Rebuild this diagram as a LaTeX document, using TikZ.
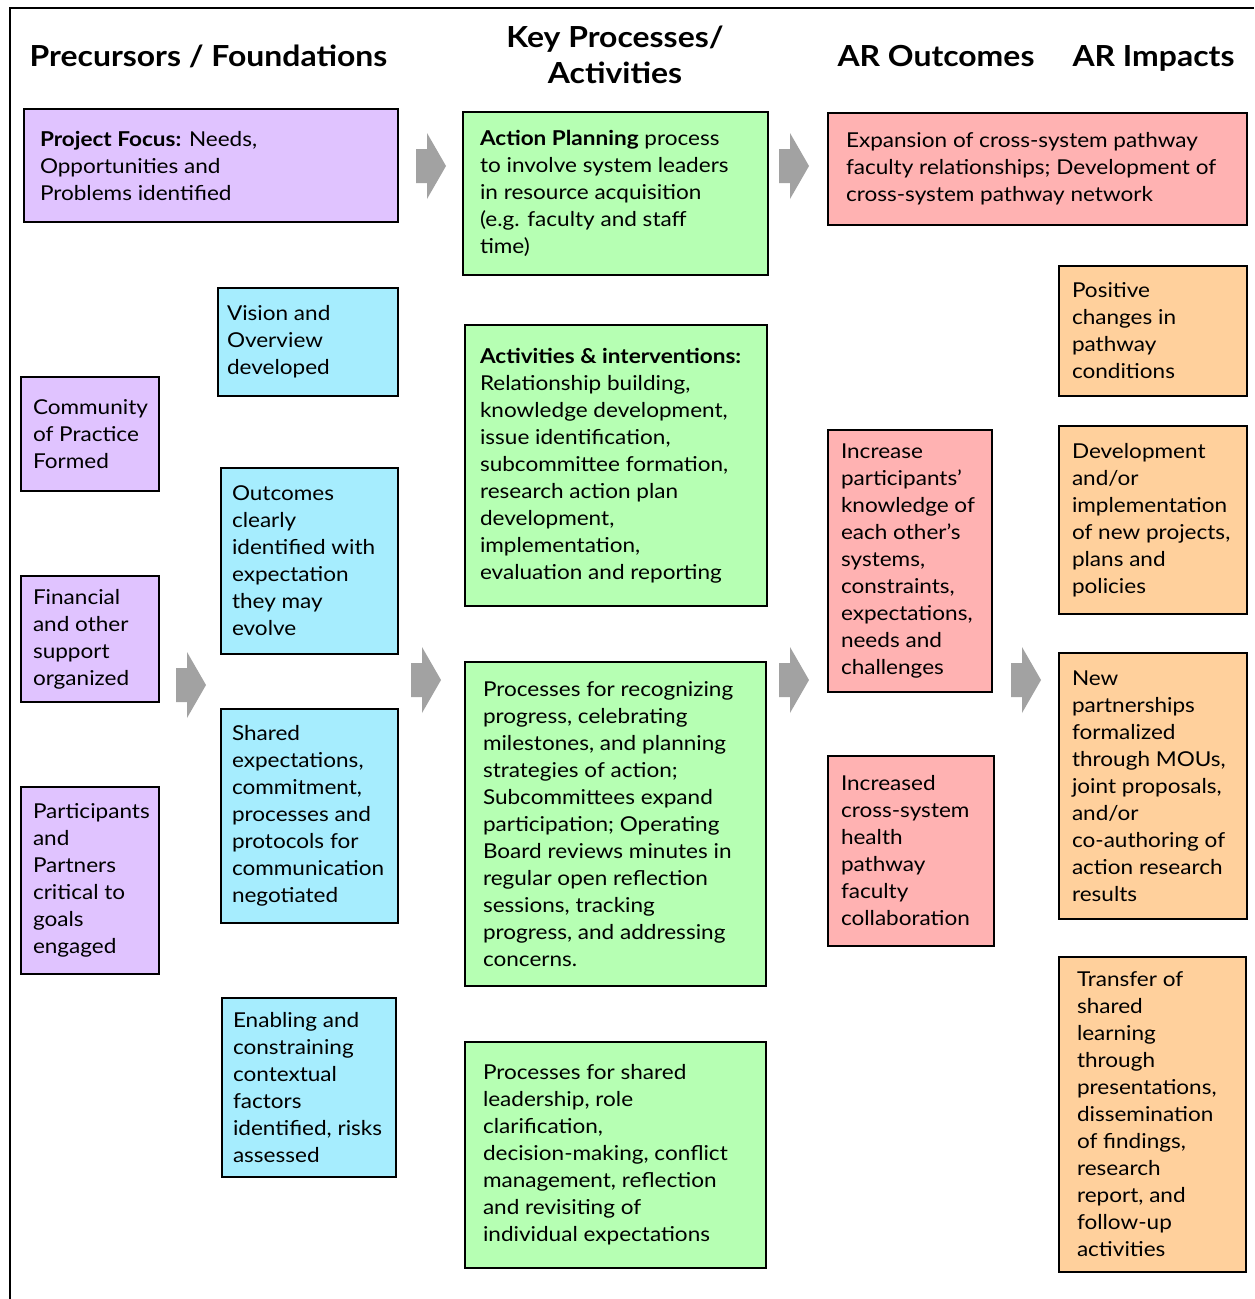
\documentclass[tikz,border=0pt]{standalone}
\usepackage{fontspec}
\setmainfont{Lato}[FakeStretch=1.1]
\definecolor{purpfill}{HTML}{E0C3FF}
\definecolor{greenfill}{HTML}{B6FFB3}
\definecolor{pinkfill}{HTML}{FFB2B2}
\definecolor{bluefill}{HTML}{A6EDFE}
\definecolor{orangefill}{HTML}{FFD09C}
\definecolor{arrowgray}{HTML}{A2A2A2}
\newcommand{\bodyfnt}{\fontsize{20.5}{27}\selectfont}
\newcommand{\headfnt}{\fontsize{29}{36}\selectfont\bfseries}
\tikzset{
  bx/.style={draw=black, line width=2.4pt, inner sep=0pt},
  pbox/.style={bx, fill=purpfill},
  gbox/.style={bx, fill=greenfill},
  rbox/.style={bx, fill=pinkfill},
  bbox/.style={bx, fill=bluefill},
  obox/.style={bx, fill=orangefill},
  tx/.style={anchor=west, align=left, inner sep=0pt, font=\bodyfnt},
  hd/.style={inner sep=0pt, align=center, font=\headfnt},
  blockarr/.pic={\fill[arrowgray] (0,-17) -- (11,-17) -- (11,-33) -- (30,0) -- (11,33) -- (11,17) -- (0,17) -- cycle;}
}
\begin{document}
\begin{tikzpicture}[x=1pt,y=-1pt]
\useasboundingbox (0,0) rectangle (1254,1299);
\fill[white] (0,0) rectangle (1254,1299);
% frame
\coordinate (fa) at (10,1299);
\coordinate (fb) at (10,8);
\coordinate (fc) at (1254,8);
\draw[line width=2pt] (fa) -- (fb) -- (fc);
% headers
\node[hd, anchor=base] (h1) at (208.5,66) {Precursors / Foundations};
\node[hd, anchor=base] (h2a) at (615,47) {Key Processes/};
\node[hd, anchor=base] (h2b) at (615,83) {Activities};
\node[hd, anchor=base] (h3) at (936,66) {AR Outcomes};
\node[hd, anchor=base] (h4) at (1153.5,66) {AR Impacts};
% boxes
\node[pbox, minimum width=374, minimum height=113] (pf) at (211,165.5) {};
\node[tx] (pft) at ([xshift=17]pf.west) {\textbf{Project Focus:} Needs,\\Opportunities and\\Problems identified};
\node[gbox, minimum width=305, minimum height=163] (ap) at (615.5,193.5) {};
\node[tx] (apt) at ([xshift=18]ap.west) {\textbf{Action Planning} process\\to involve system leaders\\in resource acquisition\\(e.g. faculty and staff\\time)};
\node[rbox, minimum width=419, minimum height=112] (ex) at (1037.5,169) {};
\node[tx] (ext) at ([xshift=19]ex.west) {Expansion of cross-system pathway\\faculty relationships; Development of\\cross-system pathway network};
\node[bbox, minimum width=180, minimum height=108] (vi) at (308,342) {};
\node[tx] (vit) at ([xshift=10]vi.west) {Vision and\\Overview\\developed};
\node[pbox, minimum width=138, minimum height=114] (co) at (90,434) {};
\node[tx] (cot) at ([xshift=13]co.west) {Community\\of Practice\\Formed};
\node[gbox, minimum width=302, minimum height=281] (ac) at (616,465.5) {};
\node[tx] (act) at ([xshift=16]ac.west) {\textbf{Activities \& interventions:}\\Relationship building,\\knowledge development,\\issue identification,\\subcommittee formation,\\research action plan\\development,\\implementation,\\evaluation and reporting};
\node[obox, minimum width=188, minimum height=130] (po) at (1153,331) {};
\node[tx] (pot) at ([xshift=14]po.west) {Positive\\changes in\\pathway\\conditions};
\node[bbox, minimum width=177, minimum height=186] (ou) at (309.5,561) {};
\node[tx] (out) at ([xshift=12]ou.west) {Outcomes\\clearly\\identified with\\expectation\\they may\\evolve};
\node[rbox, minimum width=164, minimum height=262] (in) at (910,561) {};
\node[tx] (int) at ([xshift=14]in.west) {Increase\\participants’\\knowledge of\\each other’s\\systems,\\constraints,\\expectations,\\needs and\\challenges};
\node[obox, minimum width=188, minimum height=188] (de) at (1153,520) {};
\node[tx] (det) at ([xshift=14]de.west) {Development\\and/or\\implementation\\of new projects,\\plans and\\policies};
\node[pbox, minimum width=138, minimum height=126] (fi) at (90,639) {};
\node[tx] (fit) at ([xshift=13]fi.west) {Financial\\and other\\support\\organized};
\node[gbox, minimum width=301, minimum height=324] (pr) at (615.5,824) {};
\node[tx] (prt) at ([xshift=19]pr.west) {Processes for recognizing\\progress, celebrating\\milestones, and planning\\strategies of action;\\Subcommittees expand\\participation; Operating\\Board reviews minutes in\\regular open reflection\\sessions, tracking\\progress, and addressing\\concerns.};
\node[obox, minimum width=188, minimum height=266] (np) at (1153,786) {};
\node[tx] (npt) at ([xshift=14]np.west) {New\\partnerships\\formalized\\through MOUs,\\joint proposals,\\and/or\\co-authoring of\\action research\\results};
\node[bbox, minimum width=177, minimum height=214] (sh) at (309.5,816) {};
\node[tx] (sht) at ([xshift=12]sh.west) {Shared\\expectations,\\commitment,\\processes and\\protocols for\\communication\\negotiated};
\node[rbox, minimum width=166, minimum height=190] (ic) at (911,851) {};
\node[tx] (ict) at ([xshift=14]ic.west) {Increased\\cross-system\\health\\pathway\\faculty\\collaboration};
\node[pbox, minimum width=138, minimum height=187] (pa) at (90,880.5) {};
\node[tx] (pat) at ([xshift=13]pa.west) {Participants\\and\\Partners\\critical to\\goals\\engaged};
\node[bbox, minimum width=174, minimum height=179] (en) at (309,1087.5) {};
\node[tx] (ent) at ([xshift=12]en.west) {Enabling and\\constraining\\contextual\\factors\\identified, risks\\assessed};
\node[gbox, minimum width=301, minimum height=226] (ps) at (615.5,1155) {};
\node[tx] (pst) at ([xshift=19]ps.west) {Processes for shared\\leadership, role\\clarification,\\decision-making, conflict\\management, reflection\\and revisiting of\\individual expectations};
\node[obox, minimum width=187, minimum height=315] (tr) at (1152.5,1114.5) {};
\node[tx] (trt) at ([xshift=19]tr.west) {Transfer of\\shared\\learning\\through\\presentations,\\dissemination\\of findings,\\research\\report, and\\follow-up\\activities};
% block arrows
\pic (ar1) at (416,166) {blockarr};
\pic (ar2) at (779,166) {blockarr};
\pic (ar3) at (176,685) {blockarr};
\pic (ar4) at (411,680) {blockarr};
\pic (ar5) at (779,680) {blockarr};
\pic (ar6) at (1011,680) {blockarr};
\end{tikzpicture}
\end{document}
